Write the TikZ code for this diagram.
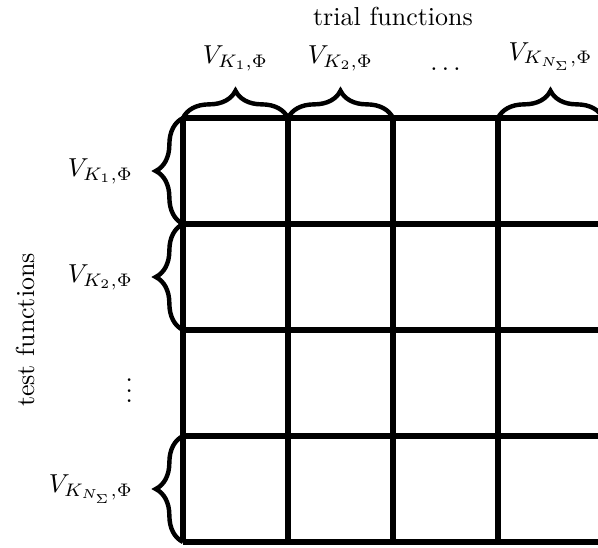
\documentclass[tikz,border=0pt]{standalone}
\usetikzlibrary{decorations.pathreplacing}
\begin{document}
\begin{tikzpicture}[x=0.385pt,y=-0.385pt,
  gridline/.style={line width=2pt},
  bracestyle/.style={decorate,decoration={brace,amplitude=10.5pt},line width=1.7pt},
  toplabel/.style={anchor=south,inner sep=3.3pt},
  leftlabel/.style={anchor=east,inner sep=3.3pt}]
\useasboundingbox (0,0) rectangle (598,548);
% grid
\foreach \y in {118,224,330,436,542}
  \draw[gridline] (183,\y) -- (610,\y);
\foreach \x in {183,288,393,498}
  \draw[gridline] (\x,118) -- (\x,542);
% corner coordinates
\coordinate (c0) at (183,118);
\coordinate (c1) at (288,118);
\coordinate (c2) at (393,118);
\coordinate (c3) at (498,118);
\coordinate (c4) at (603,118);
\coordinate (r1) at (183,224);
\coordinate (r2) at (183,330);
\coordinate (r3) at (183,436);
\coordinate (r4) at (183,542);
% top braces
\draw[bracestyle] (c0) -- (c1);
\draw[bracestyle] (c1) -- (c2);
\draw[bracestyle] (c3) -- (c4);
% left braces
\draw[bracestyle] (r1) -- (c0);
\draw[bracestyle] (r2) -- (r1);
\draw[bracestyle] (r4) -- (r3);
% top labels
\node[toplabel] (t1) at (235.5,80) {$V_{K_1,\Phi}$};
\node[toplabel] (t2) at (340.5,80) {$V_{K_2,\Phi}$};
\node[toplabel] (t3) at (445.5,80) {$\dots$};
\node[toplabel] (t4) at (550.5,80) {$V_{K_{N_\Sigma},\Phi}$};
% left labels
\node[leftlabel] (l1) at (142,171) {$V_{K_1,\Phi}$};
\node[leftlabel] (l2) at (142,277) {$V_{K_2,\Phi}$};
\node[leftlabel] (l3) at (142,383) {$\vdots$};
\node[leftlabel] (l4) at (142,489) {$V_{K_{N_\Sigma},\Phi}$};
% axis titles
\node (trial) at (393,16) {trial functions};
\node[rotate=90] (test) at (25,330) {test functions};
\end{tikzpicture}
\end{document}
